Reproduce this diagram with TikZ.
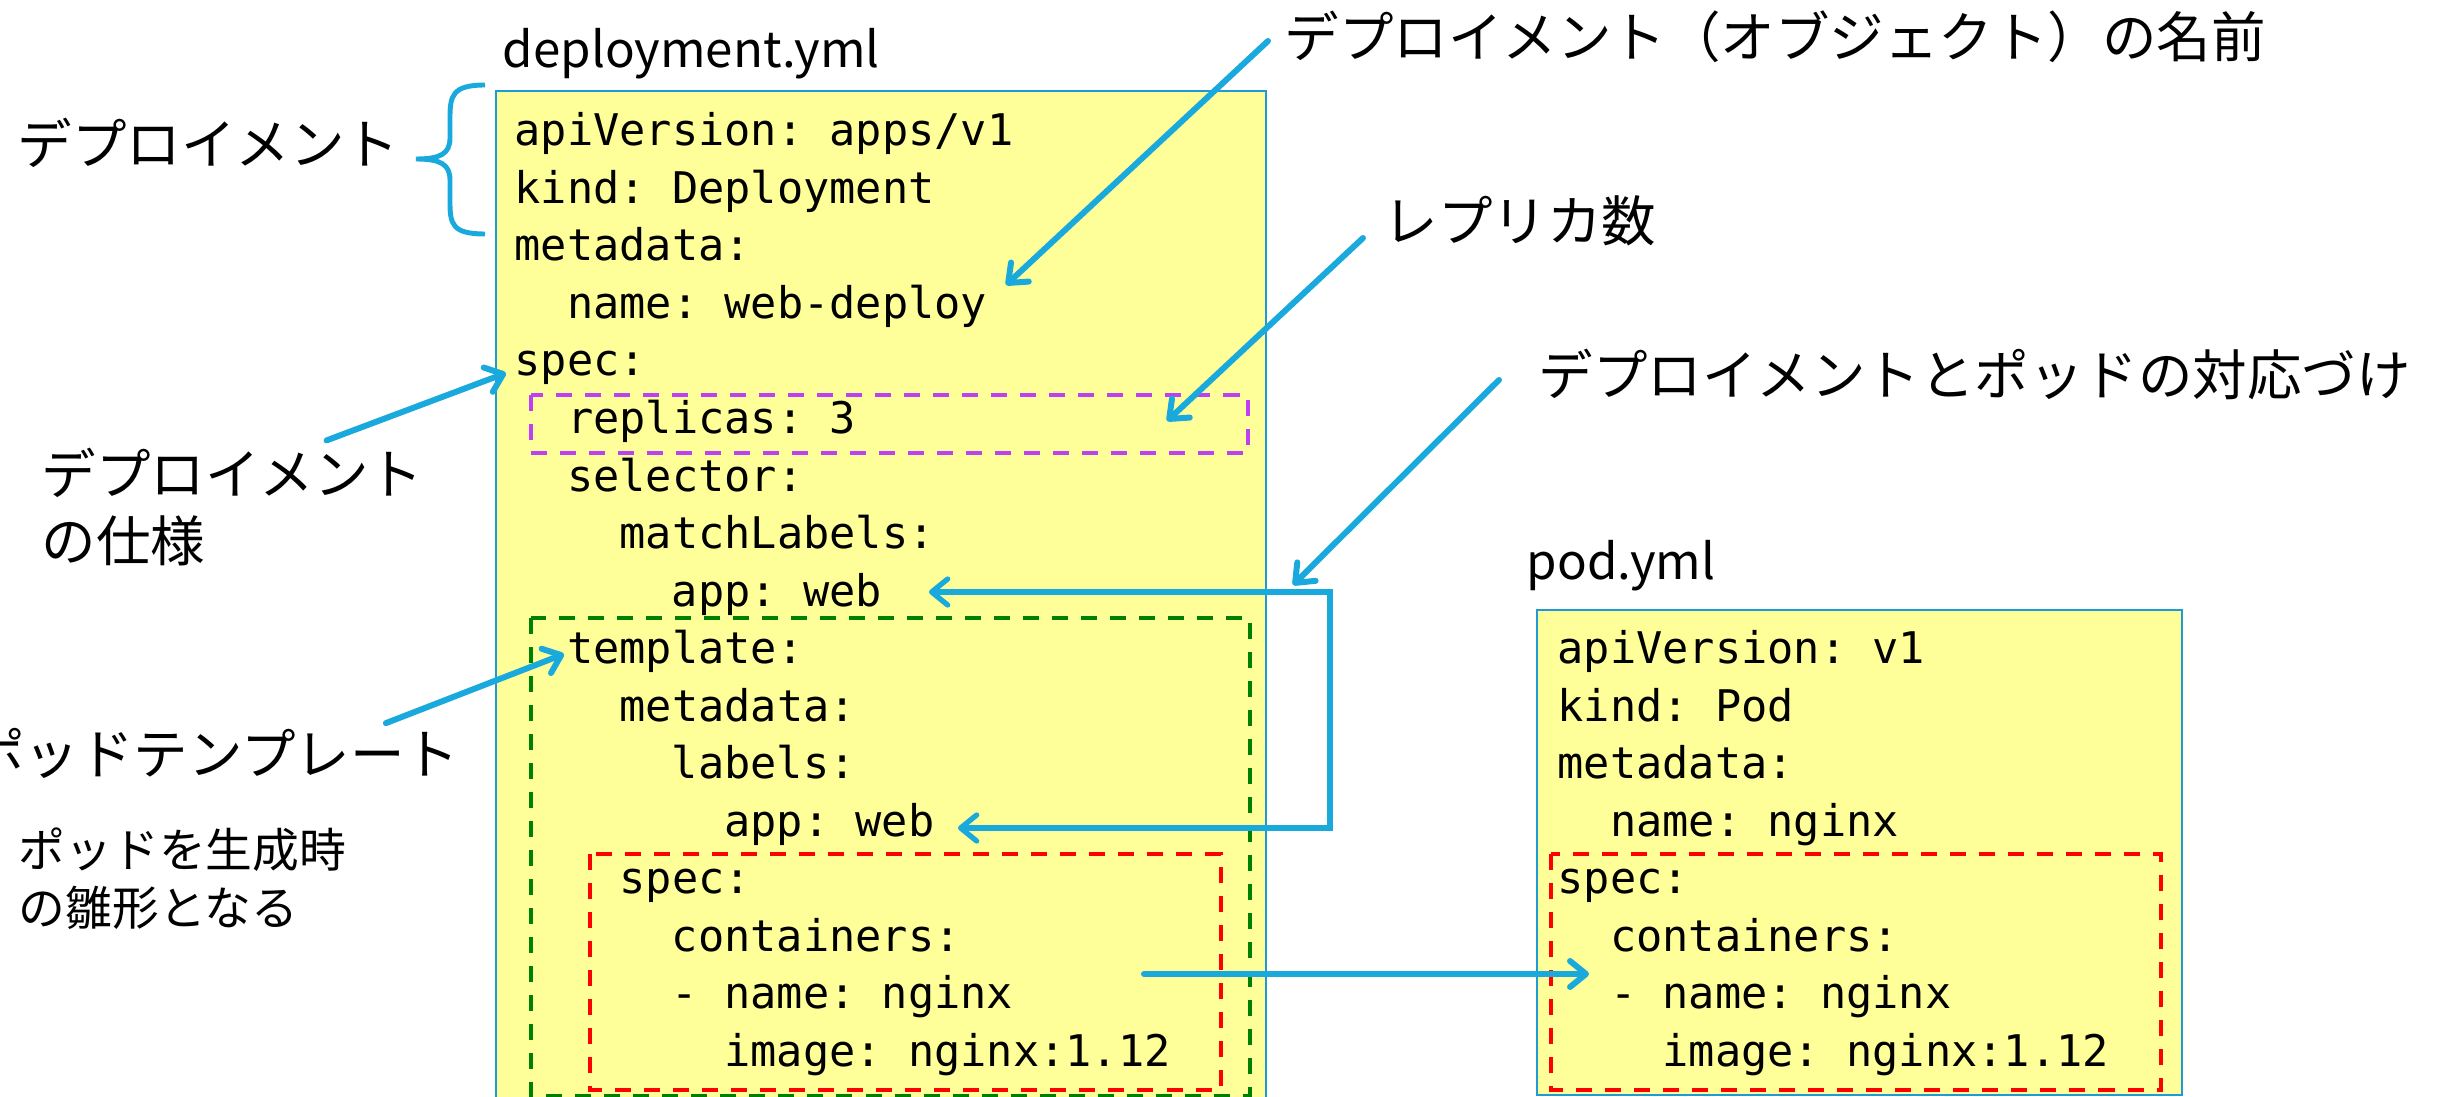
\documentclass[tikz,border=0pt]{standalone}
\usepackage{fontspec}
\setmonofont{DejaVu Sans Mono}
\newfontfamily\jp{Noto Sans CJK JP}
\usetikzlibrary{arrows.meta}
\definecolor{ymlfill}{HTML}{FFFF99}
\definecolor{ymlframe}{HTML}{1E9BD7}
\definecolor{callout}{HTML}{1AA9DC}
\definecolor{replbox}{HTML}{BF3FF2}
\definecolor{tplbox}{HTML}{008000}
\definecolor{specbox}{HTML}{FF0000}
\begin{document}
\begin{tikzpicture}[x=.01cm, y=-.01cm,
	>={Straight Barb[length=.16cm, width=.26cm, round]},
	code/.style={font=\ttfamily\fontsize{12.4}{16}\selectfont, anchor=base west, inner sep=0pt},
	lbl/.style={font=\jp\fontsize{15.5}{19}\selectfont, anchor=west, inner sep=0pt, align=left},
	note/.style={font=\jp\fontsize{13.3}{16.5}\selectfont, anchor=west, inner sep=0pt, align=left},
	fname/.style={font=\jp\fontsize{14}{17}\selectfont, anchor=base west, inner sep=0pt},
	ymlbox/.style={draw=ymlframe, line width=.6pt, fill=ymlfill},
	dashbox/.style={line width=1.2pt, dash pattern=on .16cm off .13cm},
	callarrow/.style={draw=callout, line width=1.7pt, line cap=round, ->}]
	\useasboundingbox (0,0) rectangle (2448,1097);
	\clip (0,0) rectangle (2448,1097);

	\draw[ymlbox] (496,91)   rectangle (1266,1110);
	\draw[ymlbox] (1537,610) rectangle (2182,1095);
	\draw[dashbox, draw=replbox] (531,395)  rectangle (1248,453);
	\draw[dashbox, draw=tplbox]  (531,618)  rectangle (1250,1096);
	\draw[dashbox, draw=specbox] (590,854)  rectangle (1221,1090);
	\draw[dashbox, draw=specbox] (1551,854) rectangle (2161,1090);

	\node[fname] (fdeploy) at (502,68)  {deployment.yml};
	\node[fname] (fpod)    at (1526,579) {pod.yml};

	\node[code] (d1)  at (514,146)    {apiVersion: apps/v1};
	\node[code] (d2)  at (514,203.5)  {kind: Deployment};
	\node[code] (d3)  at (514,261)    {metadata:};
	\node[code] (d4)  at (566.4,318.5) {name: web-deploy};
	\node[code] (d5)  at (514,376)    {spec:};
	\node[code] (d6)  at (566.4,433.5) {replicas: 3};
	\node[code] (d7)  at (566.4,491)  {selector:};
	\node[code] (d8)  at (618.8,548.5) {matchLabels:};
	\node[code] (d9)  at (671.2,606)  {app: web};
	\node[code] (d10) at (566.4,663.5) {template:};
	\node[code] (d11) at (618.8,721)  {metadata:};
	\node[code] (d12) at (671.2,778.5) {labels:};
	\node[code] (d13) at (723.6,836)  {app: web};
	\node[code] (d14) at (618.8,893.5) {spec:};
	\node[code] (d15) at (671.2,951)  {containers:};
	\node[code] (d16) at (671.2,1008.5) {- name: nginx};
	\node[code] (d17) at (723.6,1066) {image: nginx:1.12};

	\node[code] (p1) at (1557,663.5)   {apiVersion: v1};
	\node[code] (p2) at (1557,721)     {kind: Pod};
	\node[code] (p3) at (1557,778.5)   {metadata:};
	\node[code] (p4) at (1609.4,836)   {name: nginx};
	\node[code] (p5) at (1557,893.5)   {spec:};
	\node[code] (p6) at (1609.4,951)   {containers:};
	\node[code] (p7) at (1609.4,1008.5) {- name: nginx};
	\node[code] (p8) at (1661.8,1066)  {image: nginx:1.12};

	\node[lbl] (lbldeploy) at (17,143)   {デプロイメント};
	\node[lbl] (lblname)   at (1284,37)  {デプロイメント（オブジェクト）の名前};
	\node[lbl] (lblrep)    at (1383,221) {レプリカ数};
	\node[lbl] (lbllink)   at (1538,374) {デプロイメントとポッドの対応づけ};
	\node[lbl] (lblspec)   at (41,507)   {デプロイメント\\の仕様};
	\node[lbl, anchor=east] (lbltpl) at (460,753) {ポッドテンプレート};
	\node[note] (lblgen)   at (18,879)   {ポッドを生成時\\の雛形となる};

	\draw[draw=callout, line width=1.4pt] (485,85) .. controls (452,85) and (450,96) .. (450,118) -- (450,138) .. controls (450,154) and (440,159) .. (416,159) .. controls (440,159) and (450,164) .. (450,180) -- (450,202) .. controls (450,224) and (452,234) .. (485,234);

	\coordinate (nametip) at (1006,285);
	\coordinate (reptip)  at (1167,421);
	\coordinate (spectip) at (506,373);
	\coordinate (tpltip)  at (564,654);
	\coordinate (linktip) at (1293,585);
	\coordinate (seltip)  at (929,592);
	\coordinate (labtip)  at (958,828);
	\coordinate (linkbend) at (1330,592);
	\coordinate (podout)  at (1144,974);
	\coordinate (podtip)  at (1589,974);

	\draw[callarrow] ([xshift=-.16cm, yshift=-.04cm]lblname.west) -- (nametip);
	\draw[callarrow] ([xshift=-.2cm, yshift=-.17cm]lblrep.west) -- (reptip);
	\draw[callarrow] ([xshift=-.39cm, yshift=-.06cm]lbllink.west) -- (linktip);
	\draw[callarrow] ([xshift=.94cm, yshift=.07cm]lblspec.north) -- (spectip);
	\draw[callarrow] ([xshift=-.74cm, yshift=.04cm]lbltpl.north east) -- (tpltip);
	\draw[callarrow, <->, line width=1.5pt] (seltip) -- (linkbend) |- (labtip);
	\draw[callarrow] (podout) -- (podtip);
\end{tikzpicture}
\end{document}
